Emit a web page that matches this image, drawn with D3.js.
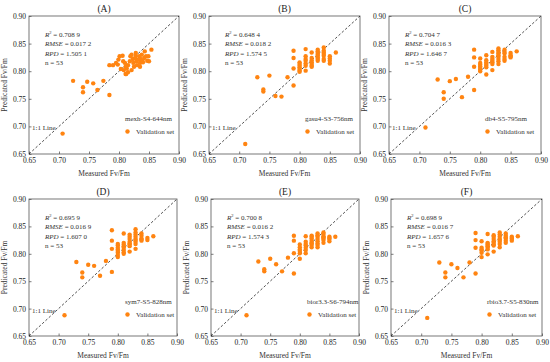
<!DOCTYPE html>
<html>
<head>
<meta charset="utf-8">
<script src="https://cdn.jsdelivr.net/npm/d3@7"></script>
<style>
  body { margin: 0; background: #fff; }
  svg { font-family: "Liberation Serif", "Times New Roman", serif; }
</style>
</head>
<body>
<svg width="550" height="362"></svg>
<script>
// Panel labels and statistics
const panelTitles = ["(A)", "(B)", "(C)", "(D)", "(E)", "(F)"];
const waveletNames = ["mexh-S4-644nm", "gasu4-S3-756nm", "db4-S5-795nm", "sym7-S5-828nm", "bior3.3-S6-794nm", "rbio3.7-S5-830nm"];
const r2Values = ["0.708 9", "0.648 4", "0.704 7", "0.695 9", "0.700 8", "0.698 9"];
const rmseValues = ["0.017 2", "0.018 2", "0.016 3", "0.016 9", "0.016 2", "0.016 7"];
const rpdValues = ["1.505 1", "1.574 5", "1.646 7", "1.607 0", "1.574 3", "1.657 6"];
const sampleCounts = [53, 53, 53, 53, 53, 53];
const tickValues = [0.65, 0.70, 0.75, 0.80, 0.85, 0.90];

// (A) mexh-S4-644nm
const measuredA = [0.706, 0.7235, 0.747, 0.757, 0.774, 0.740, 0.740, 0.764, 0.784, 0.784,
  0.790, 0.795, 0.799, 0.801, 0.806, 0.807, 0.810, 0.808, 0.813, 0.815,
  0.818, 0.819, 0.821, 0.823, 0.824, 0.825, 0.827, 0.828, 0.829, 0.830,
  0.832, 0.834, 0.835, 0.836, 0.838, 0.839, 0.840, 0.843, 0.845, 0.847,
  0.849, 0.854, 0.815, 0.821, 0.803, 0.811, 0.828, 0.842, 0.835, 0.850,
  0.811, 0.812, 0.798];
const predictedA = [0.687, 0.7825, 0.781, 0.778, 0.7825, 0.771, 0.762, 0.766, 0.757, 0.811,
  0.811, 0.815, 0.821, 0.827, 0.828, 0.818, 0.815, 0.802, 0.805, 0.811,
  0.818, 0.827, 0.830, 0.822, 0.815, 0.808, 0.824, 0.828, 0.818, 0.811,
  0.821, 0.827, 0.815, 0.822, 0.830, 0.819, 0.816, 0.836, 0.827, 0.819,
  0.827, 0.839, 0.798, 0.802, 0.804, 0.808, 0.833, 0.824, 0.808, 0.818,
  0.795, 0.795, 0.812];

// (B) gasu4-S3-756nm
const measuredB = [0.71, 0.73, 0.74, 0.74, 0.75, 0.76, 0.77, 0.78,
  0.79, 0.79, 0.79, 0.79,
  0.80, 0.80, 0.80, 0.80, 0.80, 0.80, 0.80,
  0.81, 0.81, 0.81, 0.81, 0.81, 0.81, 0.81,
  0.82, 0.82, 0.82, 0.82, 0.82, 0.82, 0.82,
  0.83, 0.83, 0.83, 0.83, 0.83, 0.83, 0.83, 0.83,
  0.84, 0.84, 0.84, 0.84, 0.84, 0.84, 0.84,
  0.85, 0.85, 0.85, 0.85, 0.86];
const predictedB = [0.668, 0.789, 0.767, 0.763, 0.792, 0.755, 0.754, 0.789,
  0.837, 0.824, 0.805, 0.774,
  0.816, 0.813, 0.810, 0.807, 0.804, 0.801, 0.799,
  0.840, 0.827, 0.822, 0.819, 0.814, 0.810, 0.801,
  0.834, 0.824, 0.820, 0.816, 0.813, 0.810, 0.808,
  0.839, 0.836, 0.833, 0.830, 0.828, 0.825, 0.822, 0.819,
  0.843, 0.837, 0.834, 0.831, 0.828, 0.822, 0.819,
  0.827, 0.823, 0.819, 0.814, 0.834];

// (C) db4-S5-795nm
const measuredC = [0.71, 0.73, 0.74, 0.74, 0.75, 0.76, 0.77, 0.78,
  0.79, 0.79, 0.79, 0.79,
  0.80, 0.80, 0.80, 0.80, 0.80, 0.80, 0.80,
  0.81, 0.81, 0.81, 0.81, 0.81, 0.81, 0.81,
  0.82, 0.82, 0.82, 0.82, 0.82, 0.82, 0.82,
  0.83, 0.83, 0.83, 0.83, 0.83, 0.83, 0.83, 0.83, 0.83,
  0.84, 0.84, 0.84, 0.84, 0.84, 0.84,
  0.85, 0.85, 0.85, 0.85, 0.86];
const predictedC = [0.698, 0.785, 0.762, 0.750, 0.782, 0.786, 0.753, 0.790,
  0.839, 0.825, 0.808, 0.766,
  0.823, 0.815, 0.812, 0.809, 0.806, 0.803, 0.800,
  0.829, 0.820, 0.816, 0.813, 0.810, 0.807, 0.794,
  0.835, 0.826, 0.822, 0.819, 0.816, 0.813, 0.802,
  0.841, 0.838, 0.835, 0.832, 0.829, 0.826, 0.822, 0.818, 0.813,
  0.839, 0.835, 0.832, 0.826, 0.822, 0.819,
  0.833, 0.829, 0.827, 0.825, 0.836];

// (D) sym7-S5-828nm
const measuredD = [0.71, 0.73, 0.74, 0.74, 0.75, 0.76, 0.77, 0.78,
  0.79, 0.79, 0.79, 0.79,
  0.80, 0.80, 0.80, 0.80, 0.80, 0.80, 0.80, 0.80,
  0.81, 0.81, 0.81, 0.81, 0.81, 0.81, 0.81, 0.81,
  0.82, 0.82, 0.82, 0.82, 0.82, 0.82, 0.82, 0.82,
  0.83, 0.83, 0.83, 0.83, 0.83, 0.83, 0.83, 0.83, 0.83,
  0.84, 0.84, 0.84, 0.84, 0.84,
  0.85, 0.85, 0.86];
const predictedD = [0.688, 0.785, 0.766, 0.757, 0.780, 0.778, 0.760, 0.787,
  0.843, 0.824, 0.809, 0.767,
  0.818, 0.815, 0.811, 0.808, 0.805, 0.802, 0.798, 0.794,
  0.837, 0.820, 0.817, 0.814, 0.811, 0.807, 0.803, 0.800,
  0.835, 0.831, 0.827, 0.822, 0.819, 0.817, 0.814, 0.804,
  0.845, 0.839, 0.835, 0.831, 0.827, 0.825, 0.822, 0.818, 0.809,
  0.837, 0.833, 0.828, 0.826, 0.824,
  0.829, 0.825, 0.832];

// (E) bior3.3-S6-794nm
const measuredE = [0.71, 0.73, 0.74, 0.74, 0.75, 0.76, 0.77, 0.78,
  0.79, 0.79, 0.79, 0.79,
  0.80, 0.80, 0.80, 0.80, 0.80, 0.80,
  0.81, 0.81, 0.81, 0.81, 0.81, 0.81, 0.81,
  0.82, 0.82, 0.82, 0.82, 0.82, 0.82, 0.82, 0.82,
  0.83, 0.83, 0.83, 0.83, 0.83, 0.83, 0.83, 0.83,
  0.84, 0.84, 0.84, 0.84, 0.84, 0.84, 0.84,
  0.85, 0.85, 0.85, 0.85, 0.86];
const predictedE = [0.688, 0.786, 0.772, 0.768, 0.791, 0.781, 0.768, 0.793,
  0.833, 0.824, 0.801, 0.764,
  0.817, 0.812, 0.808, 0.805, 0.801, 0.791,
  0.832, 0.822, 0.818, 0.815, 0.811, 0.807, 0.801,
  0.833, 0.831, 0.828, 0.824, 0.820, 0.819, 0.816, 0.812,
  0.837, 0.834, 0.831, 0.827, 0.823, 0.819, 0.816, 0.812,
  0.839, 0.836, 0.832, 0.830, 0.828, 0.825, 0.820,
  0.831, 0.829, 0.827, 0.823, 0.831];

// (F) rbio3.7-S5-830nm
const measuredF = [0.71, 0.73, 0.74, 0.74, 0.75, 0.76, 0.77, 0.78,
  0.79, 0.79, 0.79, 0.79,
  0.80, 0.80, 0.80, 0.80, 0.80, 0.80,
  0.81, 0.81, 0.81, 0.81, 0.81, 0.81, 0.81, 0.81,
  0.82, 0.82, 0.82, 0.82, 0.82, 0.82, 0.82, 0.82,
  0.83, 0.83, 0.83, 0.83, 0.83, 0.83, 0.83, 0.83,
  0.84, 0.84, 0.84, 0.84, 0.84, 0.84,
  0.85, 0.85, 0.85, 0.85, 0.86];
const predictedF = [0.683, 0.784, 0.766, 0.757, 0.781, 0.774, 0.757, 0.784,
  0.838, 0.825, 0.811, 0.764,
  0.823, 0.811, 0.808, 0.806, 0.802, 0.794,
  0.836, 0.820, 0.818, 0.816, 0.814, 0.811, 0.808, 0.799,
  0.834, 0.831, 0.827, 0.823, 0.820, 0.817, 0.815, 0.804,
  0.839, 0.835, 0.831, 0.827, 0.825, 0.822, 0.818, 0.812,
  0.837, 0.833, 0.830, 0.828, 0.824, 0.820,
  0.831, 0.829, 0.827, 0.824, 0.832];

const measuredSets = [measuredA, measuredB, measuredC, measuredD, measuredE, measuredF];
const predictedSets = [predictedA, predictedB, predictedC, predictedD, predictedE, predictedF];

const svg = d3.select("svg");
const dotColor = "#ff8411";

// Plot frames, pixel boxes of each panel
const frames = [
  { left: 29, right: 179, top: 16, bottom: 154 },
  { left: 209, right: 360, top: 16, bottom: 154 },
  { left: 389, right: 541, top: 16, bottom: 154 },
  { left: 29, right: 177, top: 199, bottom: 336 },
  { left: 211, right: 359, top: 199, bottom: 336 },
  { left: 391, right: 542, top: 199, bottom: 336 }
];

frames.forEach((f, i) => {
  const width = f.right - f.left;
  const height = f.bottom - f.top;
  const g = svg.append("g").attr("transform", `translate(${f.left},${f.top})`);

  const x = d3.scaleLinear().domain([0.65, 0.90]).range([0, width]);
  const y = d3.scaleLinear().domain([0.65, 0.90]).range([height, 0]);

  // Axes
  const xAxis = g.append("g")
    .attr("transform", `translate(0,${height})`)
    .call(d3.axisBottom(x).tickValues(tickValues).tickFormat(d3.format(".2f")).tickSize(-2.5).tickPadding(4));
  const yAxis = g.append("g")
    .call(d3.axisLeft(y).tickValues(tickValues).tickFormat(d3.format(".2f")).tickSize(-2.5).tickPadding(3));
  [xAxis, yAxis].forEach(a => {
    a.select(".domain").remove();
    a.selectAll("line").attr("stroke", "#444").attr("stroke-width", 0.7);
    a.selectAll("text")
      .attr("font-family", "Liberation Serif, serif")
      .attr("font-size", "7.5px")
      .attr("fill", "#222");
  });

  // Frame
  g.append("rect")
    .attr("width", width)
    .attr("height", height)
    .attr("fill", "none")
    .attr("stroke", "#555")
    .attr("stroke-width", 0.8);

  // 1:1 line
  g.append("line")
    .attr("x1", x(0.65)).attr("y1", y(0.65))
    .attr("x2", x(0.90)).attr("y2", y(0.90))
    .attr("stroke", "#222")
    .attr("stroke-width", 0.8)
    .attr("stroke-dasharray", "2.5,2");

  // Points
  const pts = measuredSets[i].map((m, k) => ({ m, p: predictedSets[i][k] }));
  g.selectAll(null)
    .data(pts)
    .enter()
    .append("circle")
    .attr("cx", d => x(d.m))
    .attr("cy", d => y(d.p))
    .attr("r", 2.2)
    .attr("fill", dotColor);

  // Title
  g.append("text")
    .attr("x", width / 2)
    .attr("y", -4)
    .attr("text-anchor", "middle")
    .attr("font-size", "9.5px")
    .attr("fill", "#222")
    .text(panelTitles[i]);

  // Statistics block
  const stats = g.append("g").attr("font-size", "7px").attr("fill", "#333");
  const r2 = stats.append("text").attr("x", 16).attr("y", 21);
  r2.append("tspan").attr("font-style", "italic").text("R");
  r2.append("tspan").attr("font-size", "4.5px").attr("dy", -3).text("2");
  r2.append("tspan").attr("dy", 3).text(" = " + r2Values[i]);
  const rmse = stats.append("text").attr("x", 16).attr("y", 30.3);
  rmse.append("tspan").attr("font-style", "italic").text("RMSE");
  rmse.append("tspan").text(" = " + rmseValues[i]);
  const rpd = stats.append("text").attr("x", 16).attr("y", 39.6);
  rpd.append("tspan").attr("font-style", "italic").text("RPD");
  rpd.append("tspan").text(" = " + rpdValues[i]);
  stats.append("text").attr("x", 16).attr("y", 48.9).text("n = " + sampleCounts[i]);

  // Wavelet name and legend
  g.append("text")
    .attr("x", 96).attr("y", 105)
    .attr("font-size", "7px").attr("fill", "#333")
    .text(waveletNames[i]);
  g.append("circle")
    .attr("cx", 98.5).attr("cy", 115.5)
    .attr("r", 2.2).attr("fill", dotColor);
  g.append("text")
    .attr("x", 107).attr("y", 118)
    .attr("font-size", "7px").attr("fill", "#333")
    .text("Validation set");

  g.append("text")
    .attr("x", 3).attr("y", 113.5)
    .attr("font-size", "7px").attr("fill", "#333")
    .text("1:1 Line");

  // Axis labels
  g.append("text")
    .attr("x", width / 2).attr("y", height + 22)
    .attr("text-anchor", "middle")
    .attr("font-size", "7.5px").attr("fill", "#333")
    .text("Measured Fv/Fm");
  g.append("text")
    .attr("transform", `translate(${-22},${height / 2}) rotate(-90)`)
    .attr("text-anchor", "middle")
    .attr("font-size", "7.5px").attr("fill", "#333")
    .text("Predicated Fv/Fm");
});
</script>
</body>
</html>
